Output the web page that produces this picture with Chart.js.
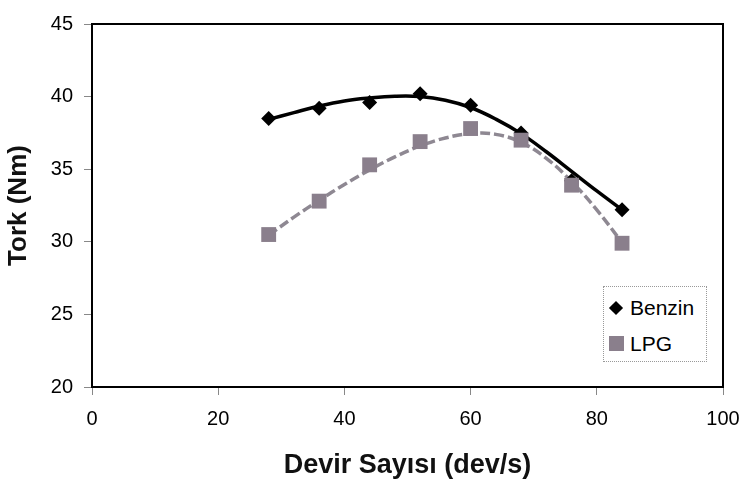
<!DOCTYPE html>
<html>
<head>
<meta charset="utf-8">
<script src="https://cdn.jsdelivr.net/npm/chart.js@4.4.1/dist/chart.umd.min.js"></script>
<style>
  body { margin: 0; background: #fff; }
  #wrap { position: relative; width: 753px; height: 488px; }
  #legend {
    position: absolute; left: 603px; top: 286px; width: 104px; height: 76px;
    border: 1px dotted #999; box-sizing: border-box; background: #fff;
    font-family: "Liberation Sans", Arial, sans-serif; font-size: 21px; color: #000;
  }
  .item { position: absolute; left: 0; height: 24px; line-height: 24px; }
  .item span.txt { position: absolute; left: 26px; white-space: nowrap; }
  .diamond { position: absolute; left: 7px; top: 7px; width: 10px; height: 10px; background: #000; transform: rotate(45deg); }
  .square { position: absolute; left: 5px; top: 4px; width: 15px; height: 15px; background: #8a7f8c; }
</style>
</head>
<body>
<div id="wrap">
  <canvas id="chart"></canvas>
  <div id="legend">
    <div class="item" style="top:9px"><span class="diamond"></span><span class="txt">Benzin</span></div>
    <div class="item" style="top:45px"><span class="square"></span><span class="txt">LPG</span></div>
  </div>
</div>
<script>
const rpm = [28, 36, 44, 52, 60, 68, 76, 84];
const benzin = [38.5, 39.2, 39.6, 40.2, 39.4, 37.5, 34.2, 32.2];
const lpg = [30.5, 32.8, 35.3, 36.9, 37.8, 37.0, 33.9, 29.9];

// trend curves, every 4 dev/s
const trendX = [28, 32, 36, 40, 44, 48, 52, 56, 60, 64, 68, 72, 76, 80, 84];
const benzinTrend = [38.43, 38.9, 39.35, 39.7, 39.9, 40.02, 40.0, 39.75, 39.25, 38.45, 37.45, 36.2, 34.85, 33.5, 32.2];
const lpgTrend = [30.45, 31.7, 32.85, 33.95, 34.95, 35.85, 36.6, 37.15, 37.45, 37.4, 36.85, 35.75, 34.15, 32.2, 29.95];

const xTicks = [0, 20, 40, 60, 80, 100];
const yTicks = [20, 25, 30, 35, 40, 45];

const FONT = "'Liberation Sans', Arial, sans-serif";
const pts = (xs, ys) => xs.map((x, i) => ({ x, y: ys[i] }));

const frame = {
  id: "frame",
  afterDraw(chart) {
    const { ctx, chartArea: a } = chart;
    ctx.save();
    ctx.strokeStyle = "#000";
    ctx.lineWidth = 2;
    ctx.strokeRect(a.left, a.top, a.right - a.left, a.bottom - a.top);
    ctx.restore();
  },
};

new Chart(document.getElementById("chart"), {
  type: "scatter",
  data: {
    datasets: [
      {
        label: "LPG",
        data: pts(rpm, lpg),
        pointStyle: "rect",
        pointRadius: 10.5,
        backgroundColor: "#8a7f8c",
        borderWidth: 0,
        showLine: false,
        order: 0,
      },
      {
        label: "Benzin",
        data: pts(rpm, benzin),
        pointStyle: "rectRot",
        pointRadius: 7.5,
        backgroundColor: "#000",
        borderWidth: 0,
        showLine: false,
        order: 1,
      },
      {
        label: "LPG trend",
        data: pts(trendX, lpgTrend),
        showLine: true,
        borderColor: "#8e8892",
        borderWidth: 3.5,
        borderDash: [10, 4],
        pointRadius: 0,
        tension: 0.4,
        order: 2,
      },
      {
        label: "Benzin trend",
        data: pts(trendX, benzinTrend),
        showLine: true,
        borderColor: "#000",
        borderWidth: 3.5,
        pointRadius: 0,
        tension: 0.4,
        order: 3,
      },
    ],
  },
  options: {
    responsive: true,
    maintainAspectRatio: false,
    animation: false,
    layout: { padding: { top: 24, right: 30, left: 0, bottom: 0 } },
    plugins: { legend: { display: false }, tooltip: { enabled: false } },
    scales: {
      x: {
        type: "linear",
        min: 0,
        max: 100,
        afterBuildTicks: (s) => { s.ticks = xTicks.map((v) => ({ value: v })); },
        afterFit: (s) => { s.height = 101; },
        grid: { drawOnChartArea: false, tickLength: 8, tickColor: "#888" },
        border: { color: "#000", width: 2 },
        ticks: { color: "#000", padding: 12, font: { family: FONT, size: 20 } },
        title: {
          display: true,
          text: "Devir Sayısı (dev/s)",
          color: "#111",
          padding: { top: 6, bottom: 6 },
          font: { family: FONT, size: 27, weight: "bold" },
        },
      },
      y: {
        min: 20,
        max: 45,
        afterBuildTicks: (s) => { s.ticks = yTicks.map((v) => ({ value: v })); },
        afterFit: (s) => { s.width = 92; },
        grid: { drawOnChartArea: false, tickLength: 8, tickColor: "#888" },
        border: { color: "#000", width: 2 },
        ticks: { color: "#000", padding: 11, font: { family: FONT, size: 20 } },
        title: {
          display: true,
          text: "Tork (Nm)",
          color: "#111",
          padding: { top: 3, bottom: 3 },
          font: { family: FONT, size: 26, weight: "bold" },
        },
      },
    },
  },
  plugins: [frame],
});
</script>
</body>
</html>
